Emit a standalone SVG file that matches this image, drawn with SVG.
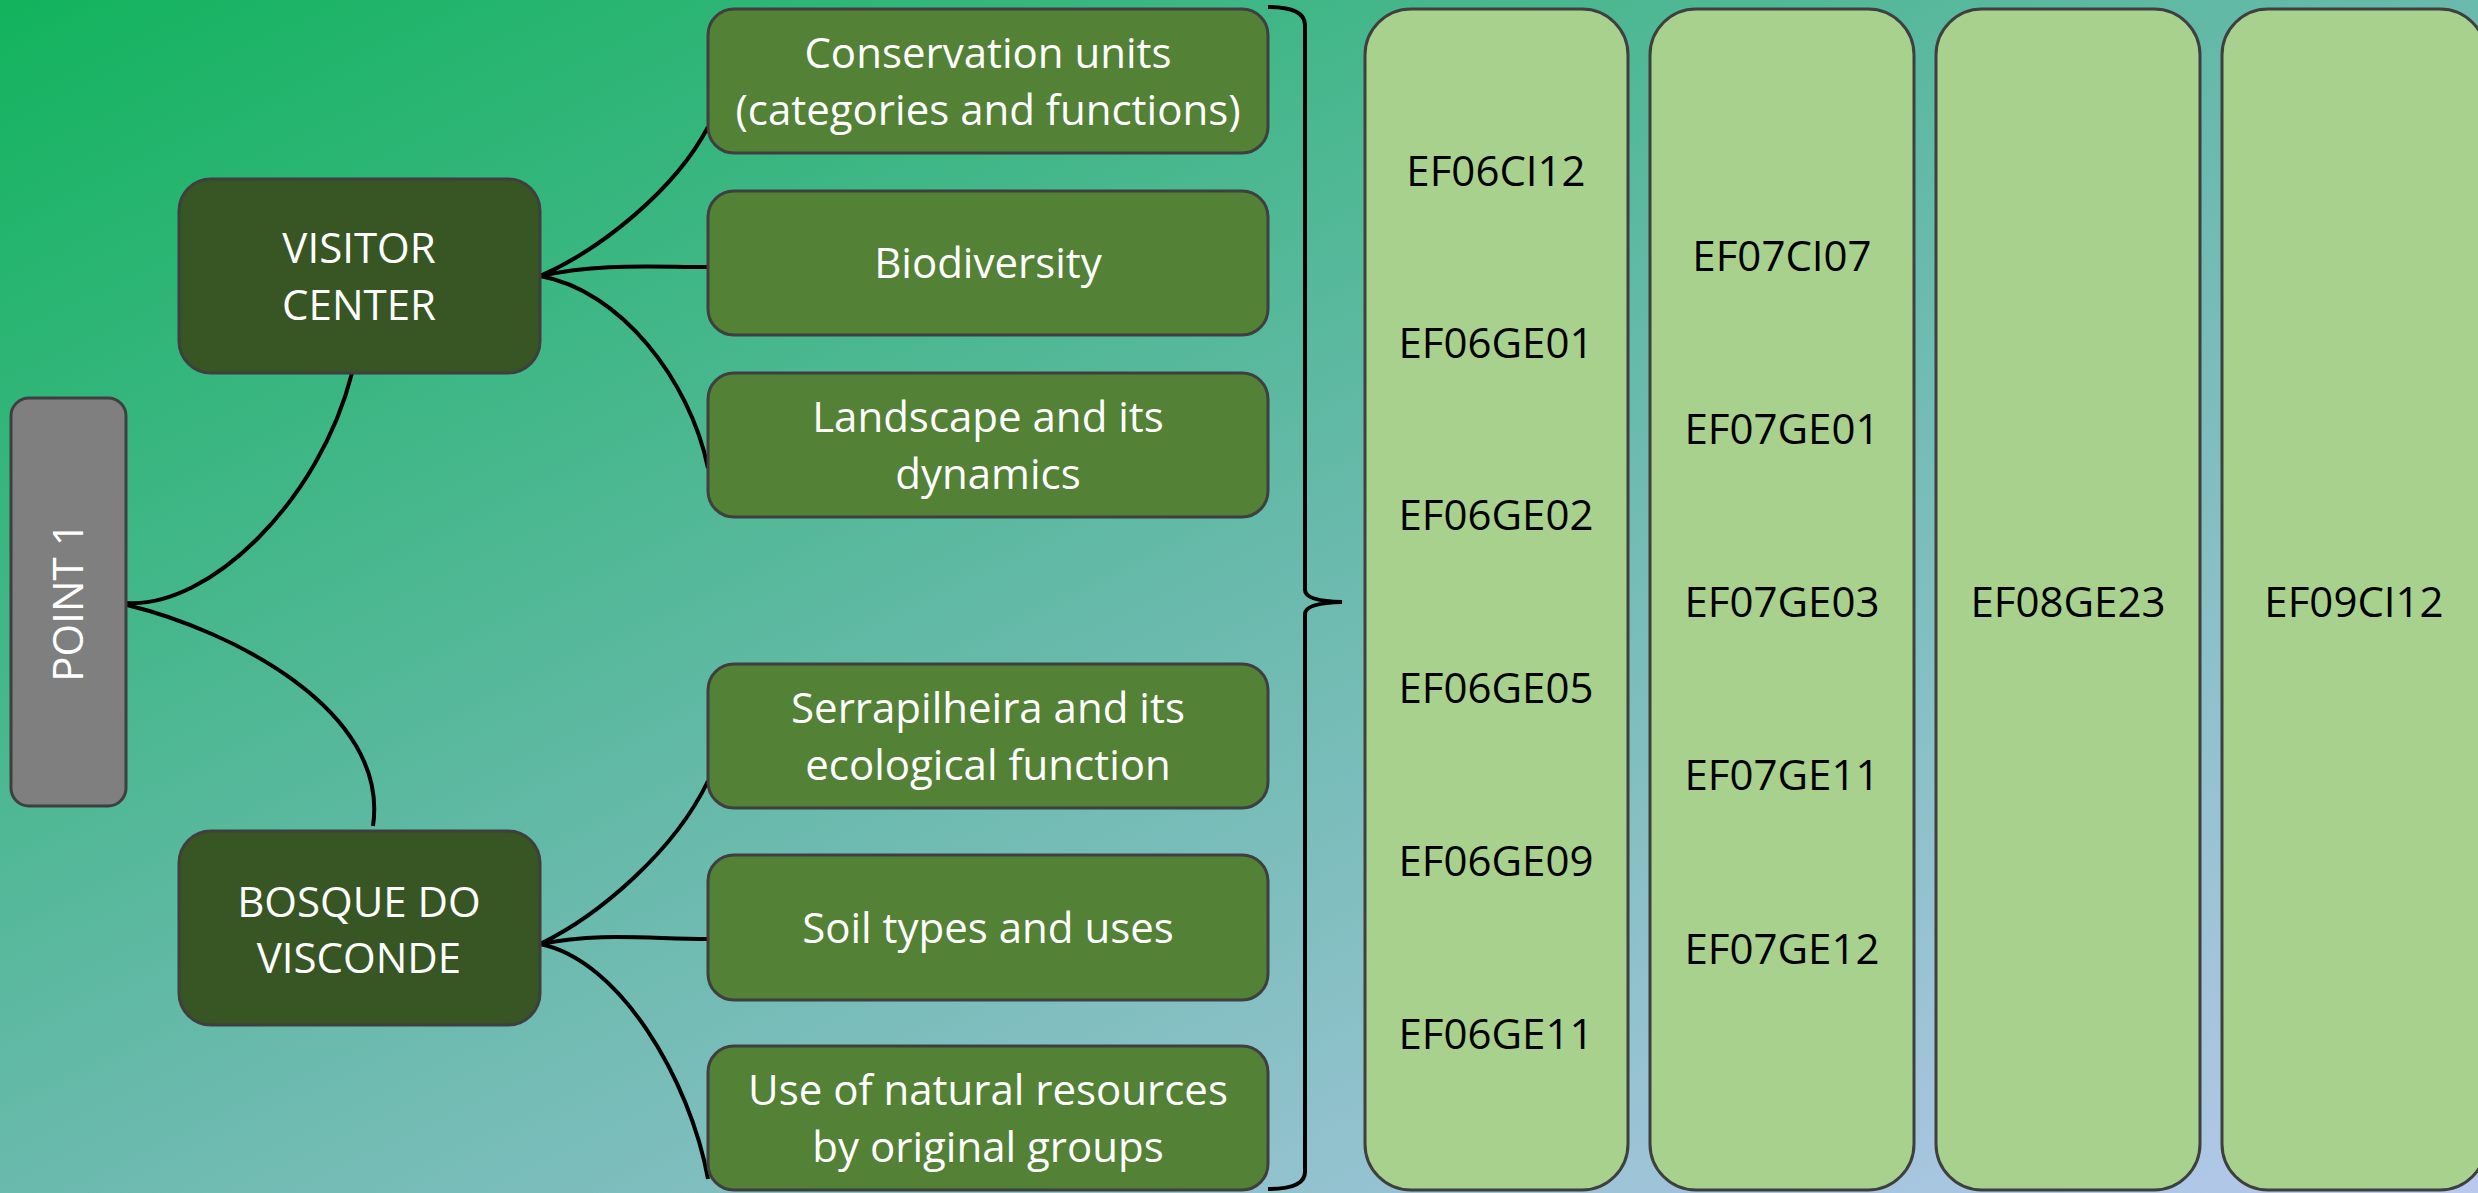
<svg xmlns="http://www.w3.org/2000/svg" width="2478" height="1193" viewBox="0 0 2478 1193">
<defs>
<linearGradient id="bg" x1="0" y1="0" x2="1" y2="1">
<stop offset="0" stop-color="#12B35D"/>
<stop offset="0.5" stop-color="#6ABAAD"/>
<stop offset="1" stop-color="#B9C9EE"/>
</linearGradient>
</defs>
<style>
.dark{fill:#375623;stroke:#3F3F3F;stroke-width:3}
.mid{fill:#538135;stroke:#3F3F3F;stroke-width:3}
.col{fill:#A9D18E;stroke:#3F3F3F;stroke-width:3}
.grey{fill:#7F7F7F;stroke:#3F3F3F;stroke-width:3}
.wt{font-family:"Open Sans","Noto Sans",sans-serif;font-size:42px;fill:#FFFFFF;text-anchor:middle}
.bt{font-family:"Open Sans","Noto Sans",sans-serif;font-size:42px;fill:#000000;text-anchor:middle}
.conn{fill:none;stroke:#000000;stroke-width:4}
</style>
<rect x="0" y="0" width="2478" height="1193" fill="url(#bg)"/>

<g id="connectors">
<path class="conn" d="M127,603 C210,608 320,500 352,373"/>
<path class="conn" d="M127,605 C230,630 390,710 373,826"/>
<path class="conn" d="M540,276 C600,250 675,190 708,127"/>
<path class="conn" d="M540,276 C600,263 650,267 708,267"/>
<path class="conn" d="M540,276 C620,290 690,380 708,468"/>
<path class="conn" d="M540,944 C600,915 675,850 708,781"/>
<path class="conn" d="M540,944 C600,932 650,939 708,939"/>
<path class="conn" d="M540,944 C620,960 690,1080 708,1179"/>
<path class="conn" stroke-width="5" d="M1268,7 Q1305,7 1305,25 V590 Q1305,601 1342,602 Q1305,603 1305,614 V1172 Q1305,1189 1268,1189"/>
</g>

<g id="point1">
<rect class="grey" x="11" y="398" width="115" height="408" rx="18"/>
<text class="wt" transform="translate(83,602) rotate(-90)" x="0" y="0">POINT 1</text>
</g>

<g id="visitor-center">
<rect class="dark" x="179" y="179" width="361" height="194" rx="32"/>
<text class="wt" x="359" y="263">VISITOR</text>
<text class="wt" x="359" y="320">CENTER</text>
</g>

<g id="bosque">
<rect class="dark" x="179" y="831" width="361" height="194" rx="32"/>
<text class="wt" x="359" y="917">BOSQUE DO</text>
<text class="wt" x="359" y="973">VISCONDE</text>
</g>

<g id="conservation">
<rect class="mid" x="708" y="9" width="560" height="144" rx="26"/>
<text class="wt" x="988" y="68">Conservation units</text>
<text class="wt" x="988" y="125">(categories and functions)</text>
</g>

<g id="biodiversity">
<rect class="mid" x="708" y="191" width="560" height="144" rx="26"/>
<text class="wt" x="988" y="278">Biodiversity</text>
</g>

<g id="landscape">
<rect class="mid" x="708" y="373" width="560" height="144" rx="26"/>
<text class="wt" x="988" y="432">Landscape and its</text>
<text class="wt" x="988" y="489">dynamics</text>
</g>

<g id="serrapilheira">
<rect class="mid" x="708" y="664" width="560" height="144" rx="26"/>
<text class="wt" x="988" y="723">Serrapilheira and its</text>
<text class="wt" x="988" y="780">ecological function</text>
</g>

<g id="soil">
<rect class="mid" x="708" y="855" width="560" height="145" rx="26"/>
<text class="wt" x="988" y="943">Soil types and uses</text>
</g>

<g id="natural-resources">
<rect class="mid" x="708" y="1046" width="560" height="144" rx="26"/>
<text class="wt" x="988" y="1105">Use of natural resources</text>
<text class="wt" x="988" y="1162">by original groups</text>
</g>

<g id="col-ef06">
<rect class="col" x="1365" y="9" width="263" height="1181" rx="46"/>
<text class="bt" x="1496" y="186">EF06CI12</text>
<text class="bt" x="1496" y="358">EF06GE01</text>
<text class="bt" x="1496" y="530">EF06GE02</text>
<text class="bt" x="1496" y="703">EF06GE05</text>
<text class="bt" x="1496" y="876">EF06GE09</text>
<text class="bt" x="1496" y="1049">EF06GE11</text>
</g>

<g id="col-ef07">
<rect class="col" x="1650" y="9" width="264" height="1181" rx="46"/>
<text class="bt" x="1782" y="271">EF07CI07</text>
<text class="bt" x="1782" y="444">EF07GE01</text>
<text class="bt" x="1782" y="617">EF07GE03</text>
<text class="bt" x="1782" y="790">EF07GE11</text>
<text class="bt" x="1782" y="964">EF07GE12</text>
</g>

<g id="col-ef08">
<rect class="col" x="1936" y="9" width="264" height="1181" rx="46"/>
<text class="bt" x="2068" y="617">EF08GE23</text>
</g>

<g id="col-ef09">
<rect class="col" x="2222" y="9" width="264" height="1181" rx="46"/>
<text class="bt" x="2354" y="617">EF09CI12</text>
</g>
</svg>
